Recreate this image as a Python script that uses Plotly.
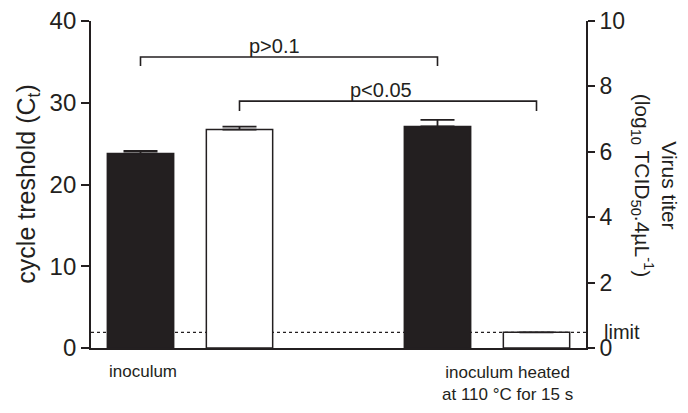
import plotly.graph_objects as go

# --- data ---
ct_pos = [0, 3]            # bar slots: inoculum, heated inoculum
ct_vals = [23.8, 27.1]     # cycle threshold (left axis)
ct_err = [0.3, 0.8]

titer_pos = [1, 4]
titer_vals = [6.68, 0.48]  # log10 TCID50 (right axis)
titer_err = [0.09, None]

limit_titer = 0.48         # detection limit, right axis units

# brackets: (x0, x1, y top, y leg bottom, label, label x, label y)
brackets = [
    (0, 3, 35.6, 34.5, "p>0.1", 1.35, 37.0),
    (1, 4, 30.2, 29.0, "p<0.05", 2.43, 31.6),
]

group_labels = ["inoculum", "inoculum heated<br>at 110 °C for 15 s"]
group_label_x = [0.03, 3.71]
group_label_y = [-0.073, -0.108]

ink = "#231f20"
font = "Liberation Sans, Arial, sans-serif"

fig = go.Figure()

fig.add_trace(go.Bar(
    x=ct_pos, y=ct_vals, width=0.67,
    marker=dict(color=ink, line=dict(color=ink, width=1.5)),
    error_y=dict(type="data", array=ct_err, arrayminus=[0, 0], symmetric=False,
                 color=ink, thickness=1.8, width=17),
    showlegend=False,
))
fig.add_trace(go.Bar(
    x=titer_pos, y=titer_vals, width=0.67, yaxis="y2",
    marker=dict(color="white", line=dict(color=ink, width=1.5)),
    error_y=dict(type="data", array=titer_err, arrayminus=[0, 0], symmetric=False,
                 color=ink, thickness=1.8, width=17),
    showlegend=False,
))

shapes = [dict(type="line", xref="paper", x0=0, x1=1, yref="y2",
               y0=limit_titer, y1=limit_titer, layer="below",
               line=dict(color=ink, width=1.2, dash="dot"))]
annotations = []
for x0, x1, ytop, yleg, label, lx, ly in brackets:
    shapes.append(dict(type="path", xref="x", yref="y",
                       path=f"M {x0},{yleg} L {x0},{ytop} L {x1},{ytop} L {x1},{yleg}",
                       line=dict(color=ink, width=1.6)))
    annotations.append(dict(x=lx, y=ly, xref="x", yref="y", text=label,
                            xanchor="center", yanchor="middle",
                            showarrow=False, font=dict(size=20, color=ink)))

for txt, gx, gy in zip(group_labels, group_label_x, group_label_y):
    annotations.append(dict(x=gx, y=gy, xref="x", yref="paper", text=txt,
                            xanchor="center", yanchor="middle",
                            showarrow=False, font=dict(size=17, color=ink)))

annotations.append(dict(x=-0.129, y=0.5, xref="paper", yref="paper",
                        text="cycle treshold (C<sub>t</sub>)", textangle=-90,
                        xanchor="center", yanchor="middle",
                        showarrow=False, font=dict(size=25, color=ink)))
annotations.append(dict(x=1.137, y=0.497, xref="paper", yref="paper",
                        text="Virus titer<br>(log<sub>10</sub> TCID<sub>50</sub>.4µL<sup>-1</sup>)",
                        textangle=90, xanchor="center", yanchor="middle",
                        showarrow=False, font=dict(size=21, color=ink)))
annotations.append(dict(x=1.032, y=limit_titer, xref="paper", yref="y2", text="limit",
                        xanchor="left", yanchor="middle", showarrow=False,
                        font=dict(size=20, color=ink)))

# page body adds an 8px offset, margins compensate for it
fig.update_layout(
    width=688, height=413,
    margin=dict(l=83, r=110, t=13, b=73),
    paper_bgcolor="white", plot_bgcolor="white",
    font=dict(family=font, color=ink),
    barmode="overlay",
    xaxis=dict(range=[-0.5, 4.5], showline=True, linecolor=ink, linewidth=1.8,
               showticklabels=False, ticks="", showgrid=False, zeroline=False,
               automargin=False),
    yaxis=dict(range=[0, 40], tickvals=[0, 10, 20, 30, 40], showline=True,
               linecolor=ink, linewidth=1.8, ticks="outside", ticklen=8,
               tickwidth=1.8, tickcolor=ink, showgrid=False, zeroline=False,
               tickfont=dict(size=24, color=ink), automargin=False,
               ticklabeloverflow="allow"),
    yaxis2=dict(range=[0, 10], tickvals=[0, 2, 4, 6, 8, 10], overlaying="y",
                side="right", showline=True, linecolor=ink, linewidth=1.8,
                ticks="outside", ticklen=7, tickwidth=1.8, tickcolor=ink,
                showgrid=False, zeroline=False, tickfont=dict(size=23, color=ink),
                automargin=False, ticklabeloverflow="allow"),
    shapes=shapes,
    annotations=annotations,
)

fig.write_html("out.html")
